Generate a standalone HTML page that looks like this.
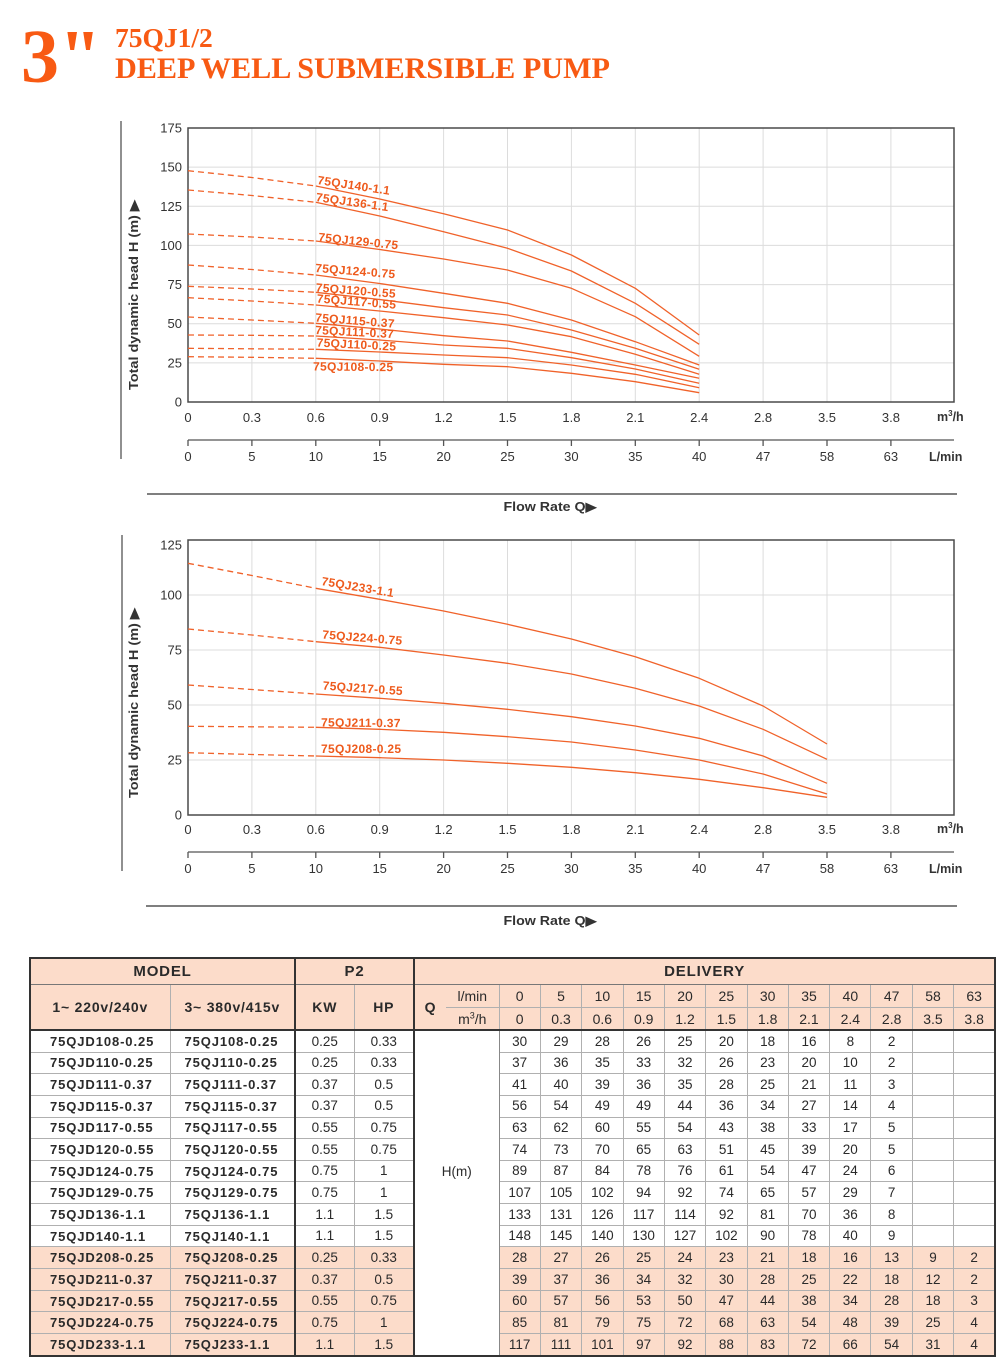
<!DOCTYPE html>
<html><head><meta charset="utf-8"><style>
html,body{margin:0;padding:0;background:#fff}
#w{position:relative;width:1006px;height:1370px;overflow:hidden;background:#fff}
svg{position:absolute;left:0;top:0}
.t{position:absolute;left:29px;top:957px;border-collapse:collapse;table-layout:fixed;width:965px;font-family:"Liberation Sans",Arial,sans-serif;color:#2a2a2a;border:2px solid #333}
.t td,.t th{padding:0;border:1px solid #b0b0b0;text-align:center;font-size:13.5px;line-height:1;white-space:nowrap;overflow:hidden;font-weight:normal}
.t th{background:#fcdcca}
.t .b{font-weight:bold}
.t tr.r1 th{height:25px;font-weight:bold;font-size:15px;letter-spacing:.8px;border-bottom:1px solid #777}
.t tr.r2 th{height:22px;font-size:14px}
.t tr.r3 th{height:21px;font-size:14px;border-bottom:2px solid #333}
.t th.hb{font-weight:bold;font-size:15.5px;letter-spacing:.8px;border-bottom:2px solid #333}
.t .L{border-left:2px solid #333}
.t tr.d td{height:20.65px}
.t td.m1{text-align:left;padding-left:19px;font-weight:bold;font-size:13px;letter-spacing:.9px}
.t td.m2{text-align:left;padding-left:14px;font-weight:bold;font-size:13px;letter-spacing:.9px}
.t tr.p td{background:#fcdcca}
.t tr.p td.hm{background:#fff}
.t td.hm{background:#fff;vertical-align:top;padding-top:134px;border-left:2px solid #333;border-right:1px solid #888}
.t td.z{border-left:1px solid #888}
sup{font-size:9px;line-height:0}
</style></head><body><div id="w">
<svg width="1006" height="930" viewBox="0 0 1006 930" xmlns="http://www.w3.org/2000/svg" font-family="Liberation Sans, Arial, sans-serif">
<!-- Title -->
<text x="21" y="82" font-family="Liberation Serif, serif" font-weight="bold" font-size="76" fill="#f85a13">3"</text>
<text x="115" y="47" font-family="Liberation Serif, serif" font-weight="bold" font-size="27.5" fill="#f85a13">75QJ1/2</text>
<text x="115" y="78" font-family="Liberation Serif, serif" font-weight="bold" font-size="30" fill="#f85a13" textLength="495" lengthAdjust="spacingAndGlyphs">DEEP WELL SUBMERSIBLE PUMP</text>

<!-- ============ CHART 1 ============ -->
<g stroke="#dcdcdc" stroke-width="1">
<line x1="188" y1="362.9" x2="954" y2="362.9"/><line x1="188" y1="323.7" x2="954" y2="323.7"/><line x1="188" y1="284.6" x2="954" y2="284.6"/><line x1="188" y1="245.4" x2="954" y2="245.4"/><line x1="188" y1="206.3" x2="954" y2="206.3"/><line x1="188" y1="167.1" x2="954" y2="167.1"/>
<line x1="251.9" y1="128" x2="251.9" y2="402"/><line x1="315.8" y1="128" x2="315.8" y2="402"/><line x1="379.7" y1="128" x2="379.7" y2="402"/><line x1="443.6" y1="128" x2="443.6" y2="402"/><line x1="507.5" y1="128" x2="507.5" y2="402"/><line x1="571.4" y1="128" x2="571.4" y2="402"/><line x1="635.3" y1="128" x2="635.3" y2="402"/><line x1="699.2" y1="128" x2="699.2" y2="402"/><line x1="763.1" y1="128" x2="763.1" y2="402"/><line x1="827" y1="128" x2="827" y2="402"/><line x1="890.9" y1="128" x2="890.9" y2="402"/>
</g>
<rect x="188" y="128" width="766" height="274" fill="none" stroke="#4a4a4a" stroke-width="1.5"/>
<line x1="121" y1="121" x2="121" y2="459" stroke="#555" stroke-width="1.3"/>
<g font-size="13" fill="#333" text-anchor="end">
<text x="182" y="406.5">0</text><text x="182" y="367.4">25</text><text x="182" y="328.2">50</text><text x="182" y="289.1">75</text><text x="182" y="249.9">100</text><text x="182" y="210.8">125</text><text x="182" y="171.6">150</text><text x="182" y="132.5">175</text>
</g>
<text transform="translate(138,295) rotate(-90)" text-anchor="middle" font-size="12.5" font-weight="bold" fill="#333" textLength="190" lengthAdjust="spacingAndGlyphs">Total dynamic head H (m) ▶</text>
<g font-size="13" fill="#333" text-anchor="middle">
<text x="188" y="422">0</text><text x="251.9" y="422">0.3</text><text x="315.8" y="422">0.6</text><text x="379.7" y="422">0.9</text><text x="443.6" y="422">1.2</text><text x="507.5" y="422">1.5</text><text x="571.4" y="422">1.8</text><text x="635.3" y="422">2.1</text><text x="699.2" y="422">2.4</text><text x="763.1" y="422">2.8</text><text x="827" y="422">3.5</text><text x="890.9" y="422">3.8</text>
<text x="188" y="461">0</text><text x="251.9" y="461">5</text><text x="315.8" y="461">10</text><text x="379.7" y="461">15</text><text x="443.6" y="461">20</text><text x="507.5" y="461">25</text><text x="571.4" y="461">30</text><text x="635.3" y="461">35</text><text x="699.2" y="461">40</text><text x="763.1" y="461">47</text><text x="827" y="461">58</text><text x="890.9" y="461">63</text>
</g>
<text x="937" y="421" font-size="12.5" font-weight="bold" fill="#333">m<tspan font-size="8" dy="-5">3</tspan><tspan dy="5">/h</tspan></text>
<text x="929" y="461" font-size="12.5" font-weight="bold" fill="#333">L/min</text>
<g stroke="#555" stroke-width="1.3">
<line x1="188" y1="440" x2="954" y2="440"/>
<line x1="188" y1="440" x2="188" y2="446"/><line x1="251.9" y1="440" x2="251.9" y2="446"/><line x1="315.8" y1="440" x2="315.8" y2="446"/><line x1="379.7" y1="440" x2="379.7" y2="446"/><line x1="443.6" y1="440" x2="443.6" y2="446"/><line x1="507.5" y1="440" x2="507.5" y2="446"/><line x1="571.4" y1="440" x2="571.4" y2="446"/><line x1="635.3" y1="440" x2="635.3" y2="446"/><line x1="699.2" y1="440" x2="699.2" y2="446"/><line x1="763.1" y1="440" x2="763.1" y2="446"/><line x1="827" y1="440" x2="827" y2="446"/><line x1="890.9" y1="440" x2="890.9" y2="446"/>
<line x1="147" y1="494" x2="957" y2="494" stroke-width="1.6"/>
</g>
<text x="550" y="511" text-anchor="middle" font-size="12.5" font-weight="bold" fill="#333" textLength="93" lengthAdjust="spacingAndGlyphs">Flow Rate Q▶</text>

<g fill="none" stroke="#f0622a" stroke-width="1.3" stroke-linejoin="round">
<g stroke-dasharray="6 4">
<polyline points="188,170.7 251.9,177.5 315.8,186"/>
<polyline points="188,190 251.9,195.5 315.8,202.3"/>
<polyline points="188,234 251.9,237 315.8,241"/>
<polyline points="188,265 251.9,269.5 315.8,275"/>
<polyline points="188,286.3 251.9,289 315.8,292.3"/>
<polyline points="188,297.7 251.9,301 315.8,305"/>
<polyline points="188,317 251.9,320 315.8,323.3"/>
<polyline points="188,335 251.9,335.3 315.8,336"/>
<polyline points="188,348.3 251.9,348.8 315.8,349.3"/>
<polyline points="188,356.7 251.9,357.3 315.8,358.3"/>
</g>
<polyline points="315.8,186 379.7,199 443.6,213.7 507.5,230 571.4,255 635.3,288.3 699.2,335"/>
<polyline points="315.8,202.3 379.7,216 443.6,231.7 507.5,248.3 571.4,271 635.3,303.3 699.2,344.3"/>
<polyline points="315.8,241 379.7,249.5 443.6,259 507.5,270 571.4,288.3 635.3,316.7 699.2,356.3"/>
<polyline points="315.8,275 379.7,283.5 443.6,293.3 507.5,303.3 571.4,320 635.3,341.7 699.2,365"/>
<polyline points="315.8,292.3 379.7,299.5 443.6,307.7 507.5,315 571.4,330 635.3,348.3 699.2,369.3"/>
<polyline points="315.8,305 379.7,311 443.6,317.7 507.5,325 571.4,336.7 635.3,354.3 699.2,374.3"/>
<polyline points="315.8,323.3 379.7,329 443.6,335.7 507.5,341 571.4,352.3 635.3,365 699.2,378.3"/>
<polyline points="315.8,336 379.7,340 443.6,345 507.5,348.3 571.4,357.7 635.3,369 699.2,383.3"/>
<polyline points="315.8,349.3 379.7,352 443.6,355 507.5,357.7 571.4,365 635.3,374.3 699.2,387.7"/>
<polyline points="315.8,358.3 379.7,361 443.6,364.3 507.5,366.7 571.4,373.3 635.3,381.7 699.2,392.7"/>
</g>
<g font-size="12" font-weight="bold" fill="#ee5a1c" letter-spacing="0.3">
<text x="317" y="184" transform="rotate(8.5 317 184)">75QJ140-1.1</text>
<text x="315.5" y="201" transform="rotate(8 315.5 201)">75QJ136-1.1</text>
<text x="318" y="241" transform="rotate(6 318 241)">75QJ129-0.75</text>
<text x="315" y="272" transform="rotate(4.5 315 272)">75QJ124-0.75</text>
<text x="315.5" y="291.5" transform="rotate(4.5 315.5 291.5)">75QJ120-0.55</text>
<text x="316.5" y="302.5" transform="rotate(4.5 316.5 302.5)">75QJ117-0.55</text>
<text x="315" y="321.5" transform="rotate(4.5 315 321.5)">75QJ115-0.37</text>
<text x="315" y="334" transform="rotate(3 315 334)">75QJ111-0.37</text>
<text x="316.5" y="346.5" transform="rotate(3 316.5 346.5)">75QJ110-0.25</text>
<text x="313" y="370.5" transform="rotate(0.5 313 370.5)">75QJ108-0.25</text>
</g>

<!-- ============ CHART 2 ============ -->
<g stroke="#dcdcdc" stroke-width="1">
<line x1="188" y1="760" x2="954" y2="760"/><line x1="188" y1="705" x2="954" y2="705"/><line x1="188" y1="650" x2="954" y2="650"/><line x1="188" y1="595" x2="954" y2="595"/>
<line x1="251.9" y1="540" x2="251.9" y2="815"/><line x1="315.8" y1="540" x2="315.8" y2="815"/><line x1="379.7" y1="540" x2="379.7" y2="815"/><line x1="443.6" y1="540" x2="443.6" y2="815"/><line x1="507.5" y1="540" x2="507.5" y2="815"/><line x1="571.4" y1="540" x2="571.4" y2="815"/><line x1="635.3" y1="540" x2="635.3" y2="815"/><line x1="699.2" y1="540" x2="699.2" y2="815"/><line x1="763.1" y1="540" x2="763.1" y2="815"/><line x1="827" y1="540" x2="827" y2="815"/><line x1="890.9" y1="540" x2="890.9" y2="815"/>
</g>
<rect x="188" y="540" width="766" height="275" fill="none" stroke="#4a4a4a" stroke-width="1.5"/>
<line x1="122" y1="535" x2="122" y2="871" stroke="#555" stroke-width="1.3"/>
<g font-size="13" fill="#333" text-anchor="end">
<text x="182" y="819.5">0</text><text x="182" y="764.5">25</text><text x="182" y="709.5">50</text><text x="182" y="654.5">75</text><text x="182" y="599.5">100</text><text x="182" y="549.5">125</text>
</g>
<text transform="translate(138,703) rotate(-90)" text-anchor="middle" font-size="12.5" font-weight="bold" fill="#333" textLength="190" lengthAdjust="spacingAndGlyphs">Total dynamic head H (m) ▶</text>
<g font-size="13" fill="#333" text-anchor="middle">
<text x="188" y="834">0</text><text x="251.9" y="834">0.3</text><text x="315.8" y="834">0.6</text><text x="379.7" y="834">0.9</text><text x="443.6" y="834">1.2</text><text x="507.5" y="834">1.5</text><text x="571.4" y="834">1.8</text><text x="635.3" y="834">2.1</text><text x="699.2" y="834">2.4</text><text x="763.1" y="834">2.8</text><text x="827" y="834">3.5</text><text x="890.9" y="834">3.8</text>
<text x="188" y="873">0</text><text x="251.9" y="873">5</text><text x="315.8" y="873">10</text><text x="379.7" y="873">15</text><text x="443.6" y="873">20</text><text x="507.5" y="873">25</text><text x="571.4" y="873">30</text><text x="635.3" y="873">35</text><text x="699.2" y="873">40</text><text x="763.1" y="873">47</text><text x="827" y="873">58</text><text x="890.9" y="873">63</text>
</g>
<text x="937" y="833" font-size="12.5" font-weight="bold" fill="#333">m<tspan font-size="8" dy="-5">3</tspan><tspan dy="5">/h</tspan></text>
<text x="929" y="873" font-size="12.5" font-weight="bold" fill="#333">L/min</text>
<g stroke="#555" stroke-width="1.3">
<line x1="188" y1="852" x2="954" y2="852"/>
<line x1="188" y1="852" x2="188" y2="858"/><line x1="251.9" y1="852" x2="251.9" y2="858"/><line x1="315.8" y1="852" x2="315.8" y2="858"/><line x1="379.7" y1="852" x2="379.7" y2="858"/><line x1="443.6" y1="852" x2="443.6" y2="858"/><line x1="507.5" y1="852" x2="507.5" y2="858"/><line x1="571.4" y1="852" x2="571.4" y2="858"/><line x1="635.3" y1="852" x2="635.3" y2="858"/><line x1="699.2" y1="852" x2="699.2" y2="858"/><line x1="763.1" y1="852" x2="763.1" y2="858"/><line x1="827" y1="852" x2="827" y2="858"/><line x1="890.9" y1="852" x2="890.9" y2="858"/>
<line x1="146" y1="906" x2="957" y2="906" stroke-width="1.6"/>
</g>
<text x="550" y="925" text-anchor="middle" font-size="12.5" font-weight="bold" fill="#333" textLength="93" lengthAdjust="spacingAndGlyphs">Flow Rate Q▶</text>

<g fill="none" stroke="#f0622a" stroke-width="1.3" stroke-linejoin="round">
<g stroke-dasharray="6 4">
<polyline points="188,563.3 251.9,575.5 315.8,588.3"/>
<polyline points="188,629 251.9,635 315.8,641.7"/>
<polyline points="188,685 251.9,689.5 315.8,694"/>
<polyline points="188,726.3 251.9,726.8 315.8,727.3"/>
<polyline points="188,752.7 251.9,754.5 315.8,756"/>
</g>
<polyline points="315.8,588.3 379.7,599.3 443.6,611 507.5,624.3 571.4,639 635.3,656.7 699.2,678.3 763.1,706 827,744"/>
<polyline points="315.8,641.7 379.7,647.3 443.6,655 507.5,663.3 571.4,674 635.3,688.3 699.2,706 763.1,729.3 827,759.3"/>
<polyline points="315.8,694 379.7,698.3 443.6,703.3 507.5,709.3 571.4,716.7 635.3,726 699.2,738.3 763.1,756 827,783.3"/>
<polyline points="315.8,727.3 379.7,729.3 443.6,732.3 507.5,736.7 571.4,742 635.3,750 699.2,760 763.1,774 827,794"/>
<polyline points="315.8,756 379.7,757.7 443.6,760 507.5,763.3 571.4,767.3 635.3,772.7 699.2,779.3 763.1,787.7 827,797.3"/>
</g>
<g font-size="12" font-weight="bold" fill="#ee5a1c" letter-spacing="0.3">
<text x="321" y="585" transform="rotate(9.5 321 585)">75QJ233-1.1</text>
<text x="322" y="638.5" transform="rotate(4.5 322 638.5)">75QJ224-0.75</text>
<text x="322.5" y="689.5" transform="rotate(4 322.5 689.5)">75QJ217-0.55</text>
<text x="321" y="726.5" transform="rotate(0.5 321 726.5)">75QJ211-0.37</text>
<text x="321" y="753">75QJ208-0.25</text>
</g>

<text x="29" y="948" font-size="20" font-weight="bold" fill="#f85a13" textLength="206" lengthAdjust="spacingAndGlyphs">PERFORMANCE DATA</text>
</svg>

<table class="t">
<colgroup><col style="width:140px"><col style="width:125px"><col style="width:59px"><col style="width:60px"><col style="width:32px"><col style="width:53px"><col style="width:41.33px"><col style="width:41.33px"><col style="width:41.33px"><col style="width:41.33px"><col style="width:41.33px"><col style="width:41.33px"><col style="width:41.33px"><col style="width:41.33px"><col style="width:41.33px"><col style="width:41.33px"><col style="width:41.33px"><col style="width:41.37px"></colgroup>
<tr class="r1"><th colspan="2">MODEL</th><th colspan="2" class="L">P2</th><th colspan="14" class="L">DELIVERY</th></tr>
<tr class="r2"><th rowspan="2" class="hb">1~ 220v/240v</th><th rowspan="2" class="hb">3~ 380v/415v</th><th rowspan="2" class="hb L">KW</th><th rowspan="2" class="hb">HP</th><th rowspan="2" class="hb L" style="border-right:none">Q</th><th style="border-left:none">l/min</th><th>0</th><th>5</th><th>10</th><th>15</th><th>20</th><th>25</th><th>30</th><th>35</th><th>40</th><th>47</th><th>58</th><th>63</th></tr>
<tr class="r3"><th style="border-left:none">m<sup>3</sup>/h</th><th>0</th><th>0.3</th><th>0.6</th><th>0.9</th><th>1.2</th><th>1.5</th><th>1.8</th><th>2.1</th><th>2.4</th><th>2.8</th><th>3.5</th><th>3.8</th></tr>
<tr class="d"><td class="m1">75QJD108-0.25</td><td class="m2">75QJ108-0.25</td><td class="L">0.25</td><td>0.33</td><td rowspan="15" colspan="2" class="hm">H(m)</td><td class="z">30</td><td>29</td><td>28</td><td>26</td><td>25</td><td>20</td><td>18</td><td>16</td><td>8</td><td>2</td><td></td><td></td></tr>
<tr class="d"><td class="m1">75QJD110-0.25</td><td class="m2">75QJ110-0.25</td><td class="L">0.25</td><td>0.33</td><td class="z">37</td><td>36</td><td>35</td><td>33</td><td>32</td><td>26</td><td>23</td><td>20</td><td>10</td><td>2</td><td></td><td></td></tr>
<tr class="d"><td class="m1">75QJD111-0.37</td><td class="m2">75QJ111-0.37</td><td class="L">0.37</td><td>0.5</td><td class="z">41</td><td>40</td><td>39</td><td>36</td><td>35</td><td>28</td><td>25</td><td>21</td><td>11</td><td>3</td><td></td><td></td></tr>
<tr class="d"><td class="m1">75QJD115-0.37</td><td class="m2">75QJ115-0.37</td><td class="L">0.37</td><td>0.5</td><td class="z">56</td><td>54</td><td>49</td><td>49</td><td>44</td><td>36</td><td>34</td><td>27</td><td>14</td><td>4</td><td></td><td></td></tr>
<tr class="d"><td class="m1">75QJD117-0.55</td><td class="m2">75QJ117-0.55</td><td class="L">0.55</td><td>0.75</td><td class="z">63</td><td>62</td><td>60</td><td>55</td><td>54</td><td>43</td><td>38</td><td>33</td><td>17</td><td>5</td><td></td><td></td></tr>
<tr class="d"><td class="m1">75QJD120-0.55</td><td class="m2">75QJ120-0.55</td><td class="L">0.55</td><td>0.75</td><td class="z">74</td><td>73</td><td>70</td><td>65</td><td>63</td><td>51</td><td>45</td><td>39</td><td>20</td><td>5</td><td></td><td></td></tr>
<tr class="d"><td class="m1">75QJD124-0.75</td><td class="m2">75QJ124-0.75</td><td class="L">0.75</td><td>1</td><td class="z">89</td><td>87</td><td>84</td><td>78</td><td>76</td><td>61</td><td>54</td><td>47</td><td>24</td><td>6</td><td></td><td></td></tr>
<tr class="d"><td class="m1">75QJD129-0.75</td><td class="m2">75QJ129-0.75</td><td class="L">0.75</td><td>1</td><td class="z">107</td><td>105</td><td>102</td><td>94</td><td>92</td><td>74</td><td>65</td><td>57</td><td>29</td><td>7</td><td></td><td></td></tr>
<tr class="d"><td class="m1">75QJD136-1.1</td><td class="m2">75QJ136-1.1</td><td class="L">1.1</td><td>1.5</td><td class="z">133</td><td>131</td><td>126</td><td>117</td><td>114</td><td>92</td><td>81</td><td>70</td><td>36</td><td>8</td><td></td><td></td></tr>
<tr class="d"><td class="m1">75QJD140-1.1</td><td class="m2">75QJ140-1.1</td><td class="L">1.1</td><td>1.5</td><td class="z">148</td><td>145</td><td>140</td><td>130</td><td>127</td><td>102</td><td>90</td><td>78</td><td>40</td><td>9</td><td></td><td></td></tr>
<tr class="d p"><td class="m1">75QJD208-0.25</td><td class="m2">75QJ208-0.25</td><td class="L">0.25</td><td>0.33</td><td class="z">28</td><td>27</td><td>26</td><td>25</td><td>24</td><td>23</td><td>21</td><td>18</td><td>16</td><td>13</td><td>9</td><td>2</td></tr>
<tr class="d p"><td class="m1">75QJD211-0.37</td><td class="m2">75QJ211-0.37</td><td class="L">0.37</td><td>0.5</td><td class="z">39</td><td>37</td><td>36</td><td>34</td><td>32</td><td>30</td><td>28</td><td>25</td><td>22</td><td>18</td><td>12</td><td>2</td></tr>
<tr class="d p"><td class="m1">75QJD217-0.55</td><td class="m2">75QJ217-0.55</td><td class="L">0.55</td><td>0.75</td><td class="z">60</td><td>57</td><td>56</td><td>53</td><td>50</td><td>47</td><td>44</td><td>38</td><td>34</td><td>28</td><td>18</td><td>3</td></tr>
<tr class="d p"><td class="m1">75QJD224-0.75</td><td class="m2">75QJ224-0.75</td><td class="L">0.75</td><td>1</td><td class="z">85</td><td>81</td><td>79</td><td>75</td><td>72</td><td>68</td><td>63</td><td>54</td><td>48</td><td>39</td><td>25</td><td>4</td></tr>
<tr class="d p"><td class="m1">75QJD233-1.1</td><td class="m2">75QJ233-1.1</td><td class="L">1.1</td><td>1.5</td><td class="z">117</td><td>111</td><td>101</td><td>97</td><td>92</td><td>88</td><td>83</td><td>72</td><td>66</td><td>54</td><td>31</td><td>4</td></tr>
</table>
</div></body></html>
